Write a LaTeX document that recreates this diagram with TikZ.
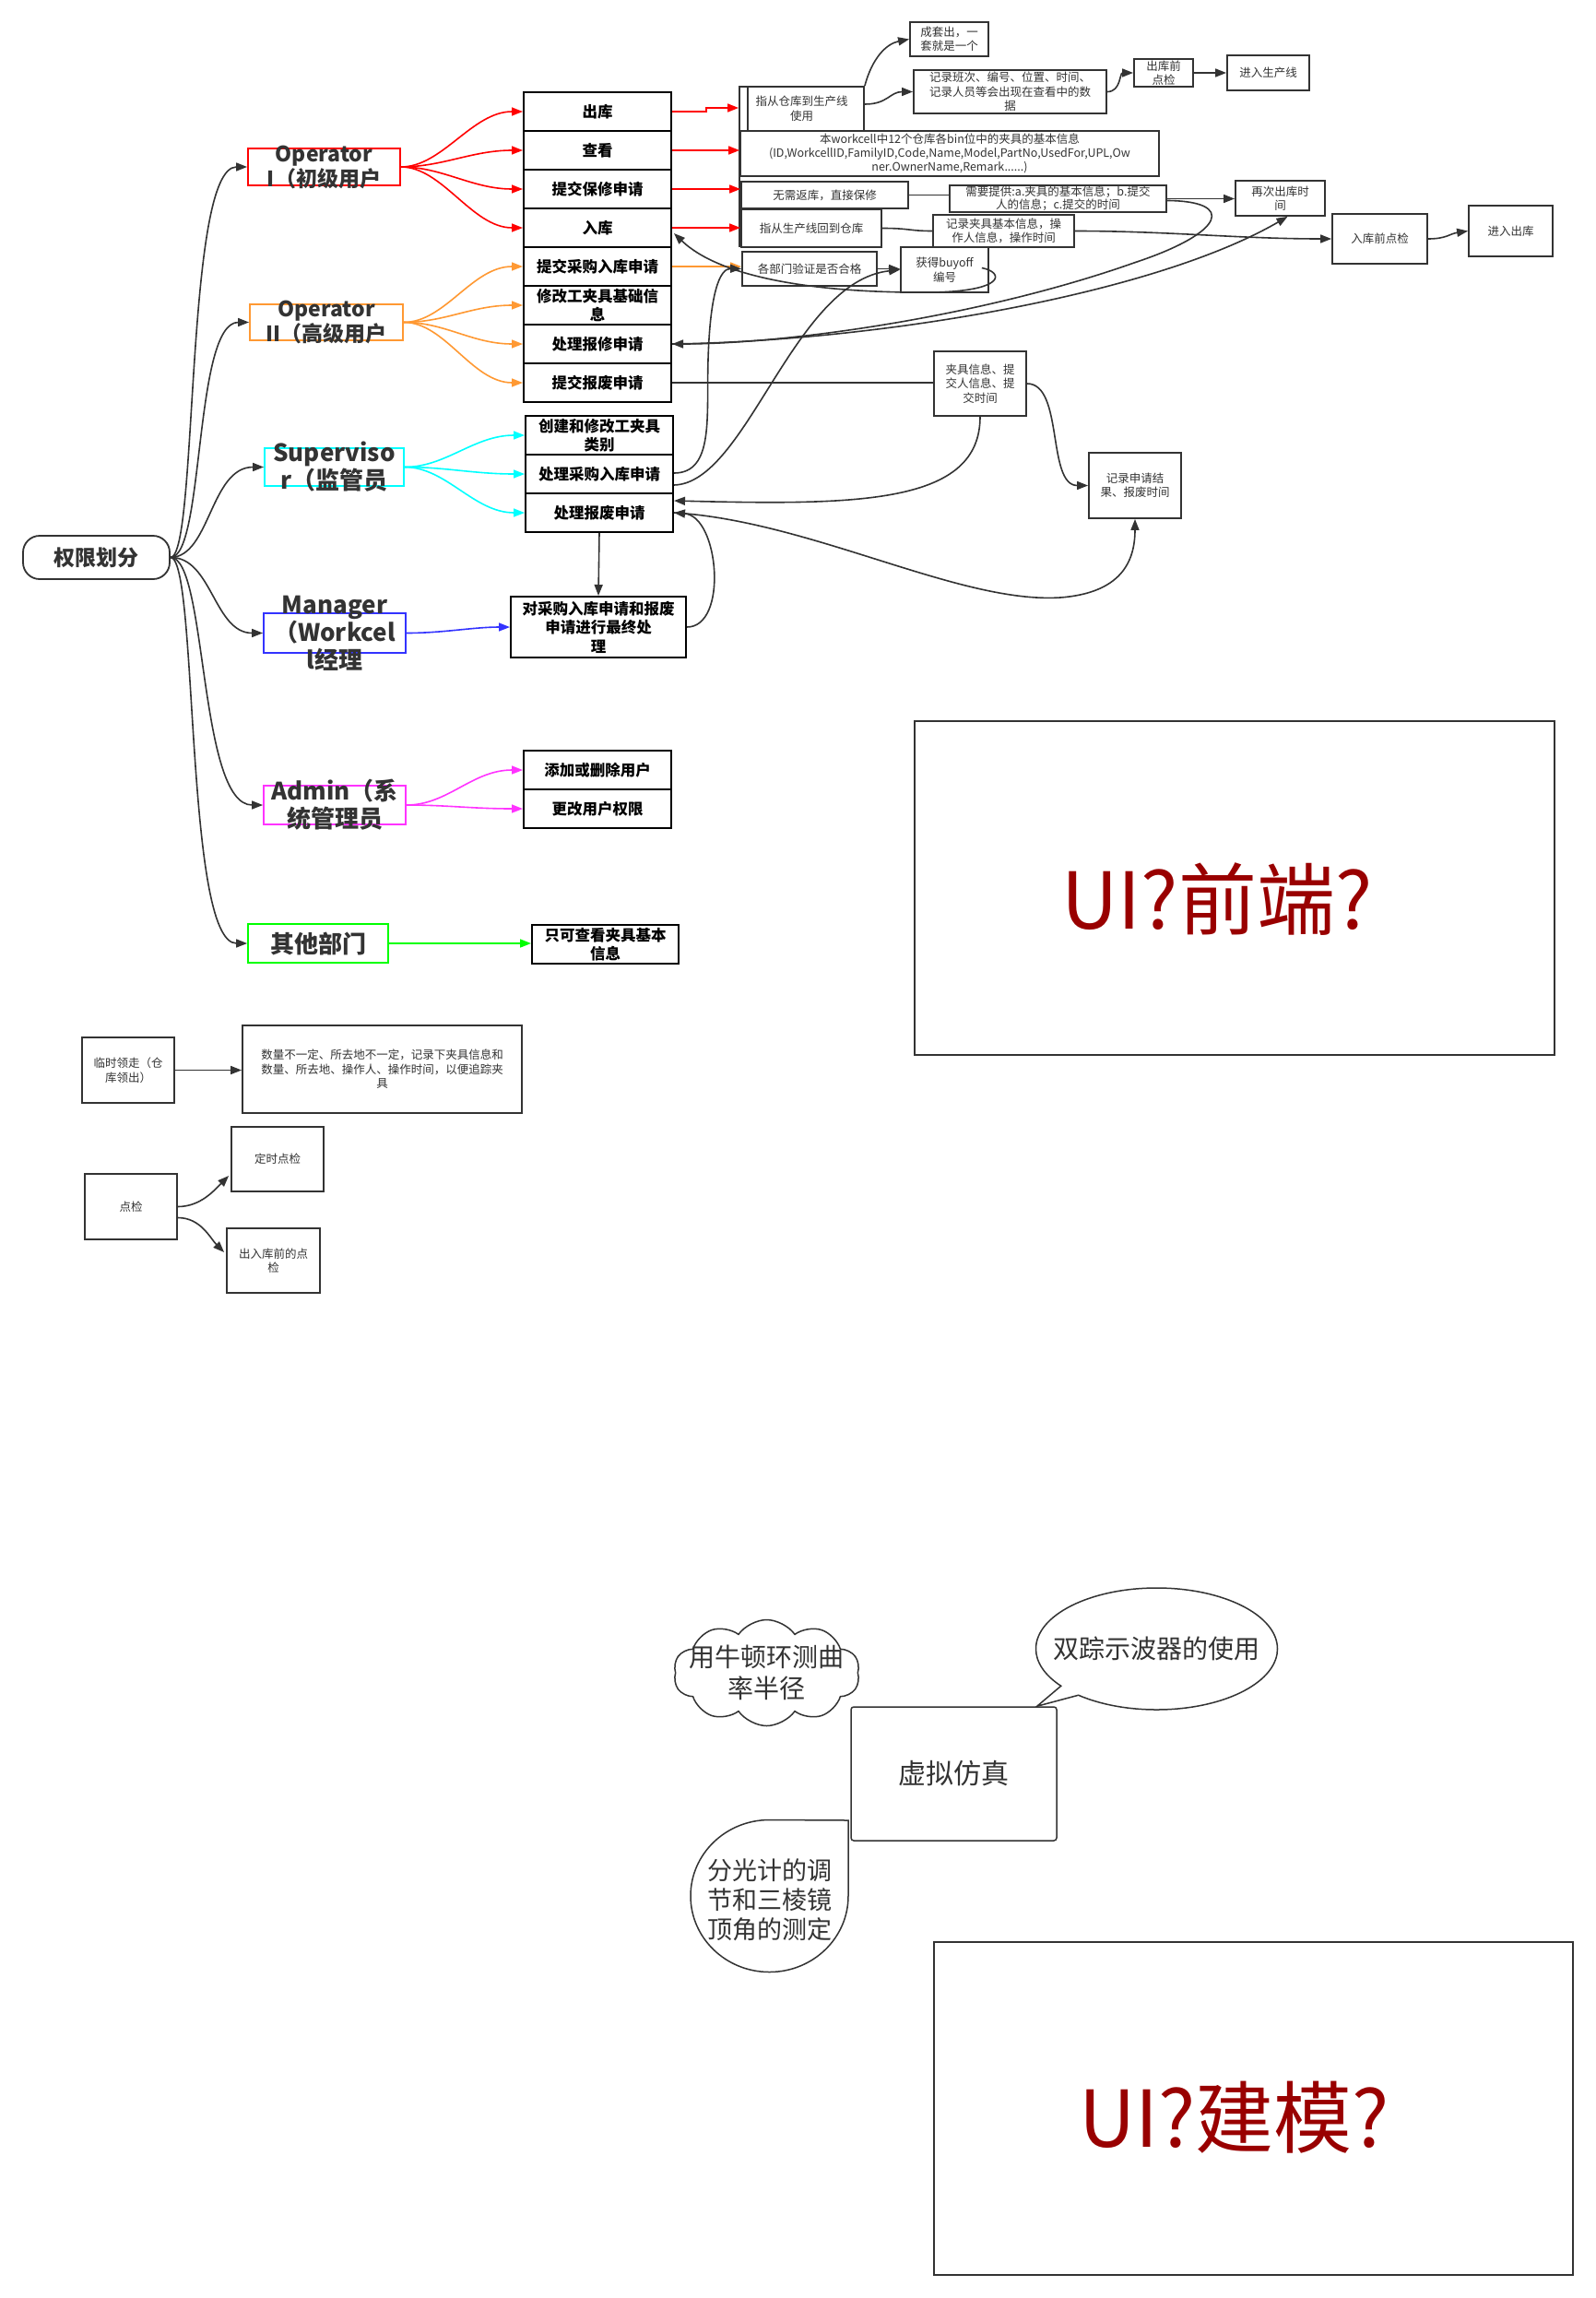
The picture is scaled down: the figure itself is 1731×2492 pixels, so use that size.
\documentclass[tikz,border=0pt]{standalone}
\usepackage{fontspec}
\setmainfont{Noto Sans CJK SC}
\usetikzlibrary{arrows.meta,calc,shapes.symbols,shapes.callouts,shapes.geometric}
\definecolor{txt}{HTML}{333333}
\definecolor{ln}{HTML}{333333}
\definecolor{cRed}{HTML}{FF0000}
\definecolor{cOrange}{HTML}{FF9933}
\definecolor{cCyan}{HTML}{00FFFF}
\definecolor{cBlue}{HTML}{3333FF}
\definecolor{cMag}{HTML}{FF33FF}
\definecolor{cGreen}{HTML}{00FF00}
\definecolor{uired}{HTML}{990000}
\begin{document}
\begin{tikzpicture}[x=1pt,y=-1pt,
  colbox/.style={draw=black,line width=2pt,fill=white,align=center,font=\fontsize{16.5}{20.5}\selectfont\bfseries,text=black,inner sep=1pt},
  sbox/.style={draw=ln,line width=1.8pt,fill=white,align=center,font=\fontsize{12.5}{15.5}\selectfont,text=txt,inner sep=1pt},
  role/.style={line width=1.8pt,fill=white,inner sep=0pt},
  roletext/.style={font=\fontsize{23}{27}\selectfont\bfseries,text=txt,align=center,inner sep=0pt},
  roletextL/.style={font=\fontsize{26}{30}\selectfont\bfseries,text=txt,align=center,inner sep=0pt},
  bigtext/.style={font=\fontsize{28}{34}\selectfont,text=txt,align=center,inner sep=0pt},
  uitext/.style={font=\fontsize{85}{90}\selectfont,text=uired,inner sep=0pt},
  conn/.style={draw=ln,line width=1.6pt,-{Triangle[length=12pt,width=9pt]}},
  pline/.style={draw=ln,line width=1.6pt},
  fan/.style={line width=1.6pt,-{Triangle[length=12pt,width=9pt]}},
]
\fill[white] (0,0) rectangle (1731,2492);
\useasboundingbox (0,0) rectangle (1731,2492);

% root and roles
\node[draw=ln,line width=1.8pt,rounded corners=18pt,minimum width=159,minimum height=47,font=\fontsize{23}{27}\selectfont\bfseries,text=txt] (root) at (104.5,604.5) {权限划分};
\node[role,draw=cRed,minimum width=165,minimum height=40,label={[roletext]center:{Operator\\I（初级用户}}] (r1) at (351.5,181) {};
\node[role,draw=cOrange,minimum width=166,minimum height=39,label={[roletext]center:{Operator\\II（高级用户}}] (r2) at (354,349.5) {};
\node[role,draw=cCyan,minimum width=151,minimum height=41,label={[roletextL]center:{Superviso\\r（监管员}}] (r3) at (362.5,506.5) {};
\node[role,draw=cBlue,minimum width=154,minimum height=43,label={[roletextL]center:{Manager\\（Workcel\\l经理}}] (r4) at (363,686.5) {};
\node[role,draw=cMag,minimum width=154,minimum height=42,label={[roletextL]center:{Admin（系\\统管理员}}] (r5) at (363,873) {};
\node[role,draw=cGreen,minimum width=152,minimum height=42,font=\fontsize{26}{30}\selectfont\bfseries,text=txt] (r6) at (345,1023) {其他部门};

% column boxes
\node[colbox,minimum width=160,minimum height=42] (c1) at (648,121) {出库};
\node[colbox,minimum width=160,minimum height=42] (c2) at (648,163) {查看};
\node[colbox,minimum width=160,minimum height=42] (c3) at (648,205) {提交保修申请};
\node[colbox,minimum width=160,minimum height=42] (c4) at (648,247) {入库};
\node[colbox,minimum width=160,minimum height=42] (c5) at (648,289) {提交采购入库申请};
\node[colbox,minimum width=160,minimum height=42] (c6) at (648,331) {修改工夹具基础信\\息};
\node[colbox,minimum width=160,minimum height=42] (c7) at (648,373) {处理报修申请};
\node[colbox,minimum width=160,minimum height=42] (c8) at (648,415) {提交报废申请};
\node[colbox,minimum width=160,minimum height=42] (s1) at (650,472) {创建和修改工夹具\\类别};
\node[colbox,minimum width=160,minimum height=42] (s2) at (650,514) {处理采购入库申请};
\node[colbox,minimum width=160,minimum height=42] (s3) at (650,556) {处理报废申请};
\node[colbox,minimum width=190,minimum height=66] (m1) at (649,680) {对采购入库申请和报废\\申请进行最终处\\理};
\node[colbox,minimum width=160,minimum height=42] (a1) at (648,835) {添加或删除用户};
\node[colbox,minimum width=160,minimum height=42] (a2) at (648,877) {更改用户权限};
\node[colbox,minimum width=159,minimum height=42] (o1) at (656.5,1024) {只可查看夹具基本\\信息};

% right side boxes
\draw[ln,line width=1.8pt] (802,94) -- (802,268);
\node[sbox,minimum width=85,minimum height=37] (cheng) at (1029.5,42.5) {成套出，一\\套就是一个};
\node[sbox,minimum width=135,minimum height=48] (zhicang) at (869.5,118) {指从仓库到生产线\\使用};
\draw[ln,line width=1.5pt] ($(zhicang.north west)+(10,0)$) -- ($(zhicang.south west)+(10,0)$);
\node[sbox,minimum width=209,minimum height=47] (jlbc) at (1095.5,99.5) {记录班次、编号、位置、时间、\\记录人员等会出现在查看中的数\\据};
\node[sbox,minimum width=64,minimum height=30,inner ysep=0pt] (ckq) at (1262,79) {出库前\\点检};
\node[sbox,minimum width=89,minimum height=38] (jrscx) at (1375.5,79) {进入生产线};
\node[sbox,minimum width=454,minimum height=49,font=\fontsize{12.5}{15}\selectfont] (bwc) at (1030,166.5) {本workcell中12个仓库各bin位中的夹具的基本信息\\(ID,WorkcellID,FamilyID,Code,Name,Model,PartNo,UsedFor,UPL,Ow\\ner.OwnerName,Remark......)};
\node[sbox,minimum width=181,minimum height=29] (wxfk) at (894.5,211.5) {无需返库，直接保修};
\node[sbox,minimum width=235,minimum height=29,inner ysep=0pt,font=\fontsize{12.5}{14}\selectfont] (xytg) at (1147.5,215.5) {需要提供:a.夹具的基本信息；b.提交\\人的信息；c.提交的时间};
\node[sbox,minimum width=152,minimum height=41] (zscx) at (880,247.5) {指从生产线回到仓库};
\node[sbox,minimum width=153,minimum height=35,inner ysep=0pt] (jljj) at (1088.5,250.5) {记录夹具基本信息，操\\作人信息，操作时间};
\node[sbox,minimum width=97,minimum height=38] (zcck) at (1388.5,215) {再次出库时\\间};
\node[sbox,minimum width=103,minimum height=54] (rkqdj) at (1496.5,259) {入库前点检};
\node[sbox,minimum width=91,minimum height=55] (jrck) at (1638.5,250.5) {进入出库};
\node[sbox,minimum width=146,minimum height=37] (gbm) at (878,291.5) {各部门验证是否合格};
\node[sbox,minimum width=95,minimum height=49] (hdb) at (1024.5,292.5) {获得buyoff\\编号};
\node[sbox,minimum width=100,minimum height=70] (jjxx) at (1063,416) {夹具信息、提\\交人信息、提\\交时间};
\node[sbox,minimum width=100,minimum height=71] (jlsq) at (1231,526.5) {记录申请结\\果、报废时间};

% bottom-left boxes
\node[sbox,minimum width=100,minimum height=71] (lszz) at (139,1160.5) {临时领走（仓\\库领出）};
\node[sbox,minimum width=303,minimum height=95] (slbyd) at (414.5,1159.5) {数量不一定、所去地不一定，记录下夹具信息和\\数量、所去地、操作人、操作时间，以便追踪夹\\具};
\node[sbox,minimum width=100,minimum height=70] (dsdj) at (301,1257) {定时点检};
\node[sbox,minimum width=100,minimum height=71] (dj) at (142,1308.5) {点检};
\node[sbox,minimum width=101,minimum height=70] (crkq) at (296.5,1367) {出入库前的点\\检};

% UI boxes
\node[draw=ln,line width=1.5pt,minimum width=694,minimum height=362,label={[uitext,xshift=-19pt,yshift=-12pt]center:UI?前端?}] (ui1) at (1339,963) {};
\node[draw=ln,line width=1.5pt,minimum width=693,minimum height=361,label={[uitext,xshift=-21pt,yshift=-10pt]center:UI?建模?}] (ui2) at (1359.5,2286.5) {};

% bottom callouts
\node[draw=ln,line width=1.5pt,rounded corners=3pt,minimum width=223,minimum height=145,font=\fontsize{30}{36}\selectfont,text=txt] (xnfz) at (1034.5,1923.5) {虚拟仿真};
\node[cloud,cloud puffs=10,cloud puff arc=110,cloud ignores aspect,draw=ln,line width=1.5pt,fill=white,minimum width=202,minimum height=115,inner sep=0pt,label={[bigtext]center:{用牛顿环测曲\\率半径}}] (cld) at (831.5,1814) {};
\node[ellipse callout,draw=ln,line width=1.5pt,fill=white,minimum width=262,minimum height=132,callout absolute pointer={($(xnfz.north east)+(-22,0)$)},callout pointer arc=12,label={[bigtext]center:双踪示波器的使用}] (sz) at (1254.5,1788) {};
\draw[ln,line width=1.5pt] (920,1974) -- (920,2056) .. controls (920,2101.6) and (881.7,2138.5) .. (834.5,2138.5) .. controls (787.3,2138.5) and (749,2101.6) .. (749,2056) .. controls (749,2010.4) and (787.3,1973.5) .. (834.5,1973.5) -- cycle;
\node[bigtext,font=\fontsize{27}{32}\selectfont] (fgj) at (834.5,2060) {分光计的调\\节和三棱镜\\顶角的测定};

% root to roles
\draw[conn] (root.east) .. controls (215,604) and (200,181) .. (r1.west);
\draw[conn] (root.east) .. controls (222,604) and (210,349.5) .. (r2.west);
\draw[conn] (root.east) .. controls (228,604) and (228,506.5) .. (r3.west);
\draw[conn] (root.east) .. controls (230,604) and (232,686.5) .. (r4.west);
\draw[conn] (root.east) .. controls (225,604) and (215,873) .. (r5.west);
\draw[conn] (root.east) .. controls (215,604) and (200,1023) .. (r6.west);

% colored fans
\foreach \t in {c1,c2,c3,c4} \draw[fan,cRed] (r1.east) .. controls +(45,0) and +(-55,0) .. (\t.west);
\foreach \t in {c5,c6,c7,c8} \draw[fan,cOrange] (r2.east) .. controls +(45,0) and +(-55,0) .. (\t.west);
\foreach \t in {s1,s2,s3} \draw[fan,cCyan] (r3.east) .. controls +(45,0) and +(-55,0) .. (\t.west);
\draw[fan,cBlue] (r4.east) .. controls +(40,0) and +(-40,0) .. (m1.west);
\foreach \t in {a1,a2} \draw[fan,cMag] (r5.east) .. controls +(45,0) and +(-55,0) .. (\t.west);
\draw[fan,cGreen] (r6.east) -- (r6.east -| o1.west);

% column to right boxes
\draw[fan,cRed] (c1.east) -- ++(37,0) |- ($(zhicang.west)+(0,-1)$);
\draw[fan,cRed] (c2.east) -- (c2.east -| bwc.west);
\draw[fan,cRed] (c3.east) -- (c3.east -| wxfk.west);
\draw[fan,cRed] (c4.east) -- (c4.east -| zscx.west);
\draw[fan,cOrange] (c5.east) -- (c5.east -| gbm.west);

% right side connectors
\draw[conn] (zhicang.north east) .. controls +(8,-30) and +(-25,5) .. (cheng.west);
\draw[conn] ($(zhicang.east)+(0,-5)$) .. controls +(25,0) and +(-25,0) .. (jlbc.west);
\draw[conn] (jlbc.east) .. controls +(15,0) and +(-15,0) .. (ckq.west);
\draw[conn] (ckq.east) -- (jrscx.west);
\draw[pline] (wxfk.east) -- (wxfk.east -| xytg.west);
\draw[pline] (zscx.east) .. controls +(30,0) and +(-25,0) .. (jljj.west);
\draw[conn] (xytg.east) -- (xytg.east -| zcck.west);
\draw[conn] ($(xytg.east)+(0,2)$) .. controls (1340,218) and (1330,252) .. (1230,285) .. controls (1060,345) and (850,373) .. (c7.east);
\draw[conn] (c7.east) .. controls (950,370) and (1250,320) .. ($(zcck.south)+(8,0)$);
\draw[conn] (jljj.east) .. controls +(100,0) and +(-100,0) .. (rkqdj.west);
\draw[conn] (rkqdj.east) .. controls +(20,0) and +(-20,3) .. (jrck.west);
\draw[conn] (gbm.east) -- (gbm.east -| hdb.west);
\draw[conn] ($(hdb.east)+(-8,-2)$) .. controls +(25,5) and (1090,316) .. (1010,317) .. controls (880,318) and (780,300) .. ($(c4.east)+(2,6)$);
\draw[conn] ($(s2.east)+(0,-1)$) .. controls (775,513) and (766,450) .. (768,390) .. controls (770,320) and (780,291) .. (gbm.west);
\draw[conn] ($(s2.east)+(0,12)$) .. controls (810,524) and (860,305) .. (hdb.west);
\draw[pline] (c8.east) -- (c8.east -| jjxx.west);
\draw[conn] (jjxx.east) .. controls +(40,0) and +(-45,0) .. (jlsq.west);
\draw[conn] (jjxx.south) .. controls +(0,95) and +(200,5) .. ($(s3.east)+(0,-13)$);
\draw[conn] (s3.east) .. controls (880,565) and (1040,655) .. (1150,648) .. controls (1215,643) and (1231,610) .. (jlsq.south);
\draw[conn] (m1.east) .. controls (790,680) and (780,560) .. (s3.east);
\draw[conn] (s3.south) -- (m1.north);

% bottom-left connectors
\draw[conn] (lszz.east) -- (lszz.east -| slbyd.west);
\draw[conn] (dj.east) .. controls +(25,0) and +(-15,15) .. ($(dsdj.west)+(-2,18)$);
\draw[conn] ($(dj.east)+(0,12)$) .. controls +(25,0) and +(-15,-15) .. ($(crkq.west)+(-2,-9)$);
\end{tikzpicture}
\end{document}
